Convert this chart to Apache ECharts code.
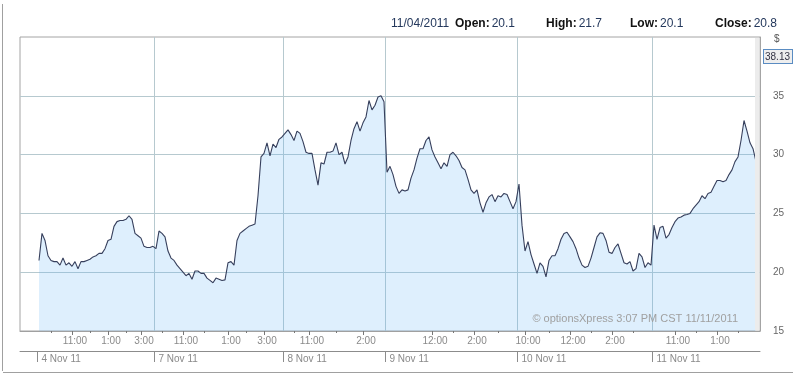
<!DOCTYPE html>
<html>
<head>
<meta charset="utf-8">
<script src="https://cdn.jsdelivr.net/npm/echarts@6/dist/echarts.min.js"></script>
<style>html,body{margin:0;padding:0;background:#fff}#c{width:793px;height:374px}</style>
</head>
<body>
<div id="c"></div>
<script>
// price samples, evenly spaced in trading-time slots
const day1 = [21.0,23.3,22.7,21.4,21.0,20.9,20.9,20.6,21.2,20.6,20.8,20.5,20.9,20.3,20.9,20.9,21.0,21.1,21.3,21.4,21.6,21.6,22.0,22.7,22.8,23.9,24.3,24.4,24.4,24.5,24.8,24.5,23.3,23.1,22.9,22.2,22.1,22.1,22.2];
const day2 = [22.0,23.5,23.3,23.0,21.8,21.2,21.0,20.6,20.3,20.0,19.7,19.9,19.4,20.1,20.1,19.9,19.9,19.5,19.3,19.1,19.5,19.4,19.3,19.35,20.8,20.9,20.6,22.7,23.3,23.5,23.7,23.9,24.0,24.1,26.5,29.8,30.1,31.0,29.9,30.9,30.6,31.3,31.5];
const day3 = [31.8,32.1,31.7,31.2,32.0,31.8,31.1,30.2,30.1,30.1,28.7,27.4,29.3,29.2,30.2,30.2,30.3,31.0,30.0,30.2,29.2,29.8,31.2,32.2,32.8,32.0,32.7,33.2,34.6,33.8,34.2,34.9,35.0,34.5];
const day4 = [28.5,29.0,28.3,27.3,26.7,27.0,26.9,27.0,28.0,28.7,29.7,30.5,30.5,31.2,31.5,30.4,29.8,29.3,28.8,29.3,29.0,30.0,30.2,29.9,29.5,28.9,28.7,27.9,27.0,26.7,27.0,25.9,25.1,25.9,26.4,26.6,26.0,26.5,26.4,26.7,26.6,26.0,25.4,26.0];
const day5 = [27.5,24.0,21.8,22.6,21.5,20.7,19.9,20.8,20.5,19.6,21.0,21.4,21.4,22.0,22.8,23.3,23.4,23.0,22.6,22.0,21.2,20.6,20.4,20.5,21.2,22.1,23.0,23.35,23.3,22.7,21.7,21.6,22.1,22.4,21.6,20.8,20.7,20.9,20.1,20.3,21.6,21.3,20.4,20.8,20.6];
const day6 = [24.0,22.8,23.8,23.9,22.9,23.2,23.8,24.3,24.6,24.7,24.85,24.9,25.0,25.4,25.7,26.0,26.5,26.25,26.7,26.8,27.3,27.8,27.8,27.7,27.8,28.3,28.7,29.4,29.8,31.2,32.9,32.0,31.0,30.5,29.4];
const prices = [].concat(day1, day2, day3, day4, day5, day6);

// x-axis labelling (slot index of each tick)
const dayLabels = ['4 Nov 11','7 Nov 11','8 Nov 11','9 Nov 11','10 Nov 11','11 Nov 11'];
const dayStartIdx = [-0.5, 38.5, 81.5, 115.5, 159.5, 204.5];
const hourTickIdx = [11,23,34, 48,63,75, 90,108, 131,145, 162,177,191, 212,226];
const hourTickLabels = ['11:00','1:00','3:00','11:00','1:00','3:00','11:00','2:00','12:00','2:00','10:00','12:00','2:00','11:00','1:00'];
const minorTickIdx = [4,17,29, 41,55,69, 85,99, 138,153, 170,184,198, 219,233];

// y-axis
const yMin = 15, yMax = 40, yStep = 5;

// header
const headerDate = '11/04/2011';
const ohlcNames = ['Open:','High:','Low:','Close:'];
const ohlcValues = ['20.1','21.7','20.1','20.8'];
const lastValueTag = '38.13';
const currencyTag = '$';
const footnote = '\u00A9 optionsXpress 3:07 PM CST 11/11/2011';

const X_MIN = -6.33, X_MAX = 240.33;
const gridColor = '#b6c9cf';
const font = 'Arial, "Liberation Sans", sans-serif';

const chart = echarts.init(document.getElementById('c'), null, {renderer: 'canvas'});
const hourMap = {}; hourTickIdx.forEach((k, i) => hourMap[k] = hourTickLabels[i]);
const dayMap = {}; dayStartIdx.forEach((k, i) => dayMap[k] = dayLabels[i]);

const ohlcX = [455, 546, 630, 715];
const headerGraphics = [{
  type: 'text', left: 391, top: 18,
  style: {text: headerDate, fill: '#24385c', font: '12px ' + font}
}];
ohlcNames.forEach((n, i) => headerGraphics.push({
  type: 'text', left: ohlcX[i], top: 18,
  style: {
    text: '{b|' + n + '}{v|' + ohlcValues[i] + '}',
    rich: {
      b: {fill: '#111', font: 'bold 12px ' + font, padding: [0, 2, 0, 0]},
      v: {fill: '#24385c', font: '12px ' + font}
    }
  }
}));

chart.setOption({
  animation: false,
  backgroundColor: '#fff',
  grid: {left: 20, right: 33, top: 37, bottom: 43, show: true, borderColor: '#a4a4a4', borderWidth: 1, backgroundColor: '#fff'},
  xAxis: [
    {
      type: 'value', min: X_MIN, max: X_MAX, position: 'bottom',
      axisLine: {show: true, onZero: false, lineStyle: {color: '#a0a0a0'}},
      axisTick: {show: true, customValues: hourTickIdx, length: 4, lineStyle: {color: '#777'}},
      axisLabel: {customValues: hourTickIdx, formatter: v => hourMap[v] || '', color: '#8a8a8a', fontSize: 10, fontFamily: font, margin: 5, padding: [0, 0, 0, 6]},
      splitLine: {show: false}
    },
    {
      type: 'value', min: X_MIN, max: X_MAX, position: 'bottom',
      axisLine: {show: false, onZero: false},
      axisTick: {show: true, customValues: minorTickIdx, length: 2, lineStyle: {color: '#777'}},
      axisLabel: {show: false},
      splitLine: {show: false}
    },
    {
      type: 'value', min: X_MIN, max: X_MAX, position: 'bottom', offset: 20,
      axisLine: {show: true, onZero: false, lineStyle: {color: '#8c8c8c'}},
      axisTick: {show: true, customValues: dayStartIdx, length: 11, lineStyle: {color: '#8c8c8c'}},
      axisLabel: {customValues: dayStartIdx, formatter: v => dayMap[v] || '', color: '#8a8a8a', fontSize: 10, fontFamily: font, margin: 3, align: 'left', padding: [0, 0, 0, 4]},
      splitLine: {show: false}
    }
  ],
  yAxis: {
    type: 'value', min: yMin, max: yMax, interval: yStep, position: 'right',
    axisLine: {show: true, onZero: false, lineStyle: {color: '#a4a4a4'}},
    axisTick: {show: false},
    axisLabel: {color: '#666', fontSize: 10, fontFamily: font, margin: 13, formatter: v => (v === yMax ? '' : String(v))},
    splitLine: {show: true, lineStyle: {color: ['transparent', gridColor, gridColor, gridColor, gridColor, 'transparent'], width: 1}}
  },
  series: [{
    type: 'line',
    xAxisIndex: 0,
    data: prices.map((v, i) => [i, v]),
    showSymbol: false,
    symbol: 'none',
    lineStyle: {color: '#363f5c', width: 1.1},
    areaStyle: {color: 'rgba(100,180,245,0.3)'},
    markLine: {
      silent: true, symbol: 'none', z: 1,
      label: {show: false},
      lineStyle: {color: gridColor, width: 1, type: 'solid'},
      data: dayStartIdx.slice(1).map(k => ({xAxis: k}))
    }
  }],
  graphic: [
    {type: 'rect', shape: {x: 755, y: 38, width: 4.5, height: 292.5}, style: {fill: '#ececec'}, z: 10},
    {type: 'text', left: 774, top: 34, style: {text: currencyTag, fill: '#555', font: '10px ' + font}, z: 10},
    {type: 'text', left: 763, top: 49, style: {text: lastValueTag, fill: '#334', font: '10px ' + font, backgroundColor: '#eeeeee', borderColor: '#5a8cc2', borderWidth: 1, padding: [2, 2, 1, 1]}, z: 10},
    {type: 'text', right: 55, top: 313, style: {text: footnote, fill: '#a0a0a0', font: '11px ' + font}, z: 10},
    {type: 'line', shape: {x1: 2.5, y1: 4, x2: 2.5, y2: 371}, style: {stroke: '#a0a0a0', lineWidth: 1}},
    {type: 'line', shape: {x1: 3, y1: 372.5, x2: 793, y2: 372.5}, style: {stroke: '#a0a0a0', lineWidth: 1}}
  ].concat(headerGraphics)
});
</script>
</body>
</html>
